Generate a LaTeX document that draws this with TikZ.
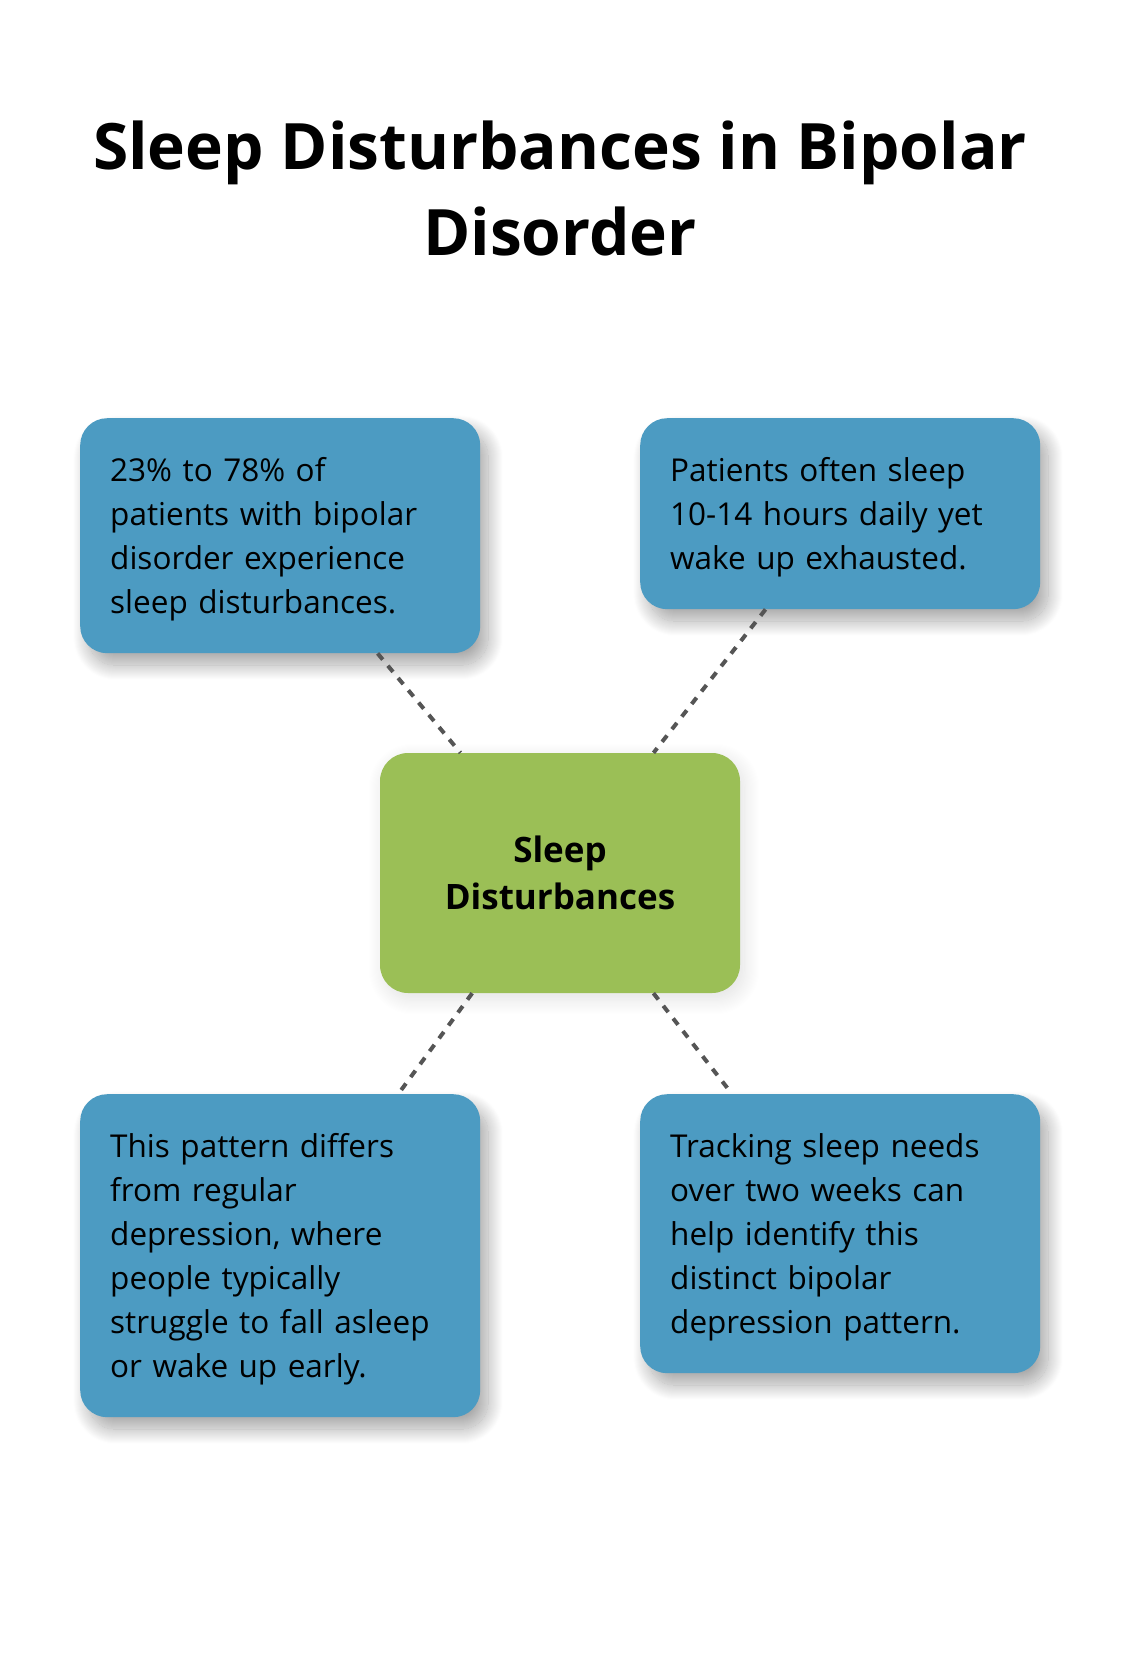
\documentclass[tikz,border=0pt]{standalone}
\usepackage{fontspec}
\setmainfont{Open Sans}
\usetikzlibrary{shadows.blur}

\definecolor{infoblue}{HTML}{4C9BC2}
\definecolor{maingreen}{HTML}{9BBF56}
\definecolor{linkgray}{HTML}{555555}

\begin{document}
\begin{tikzpicture}[x=1pt,y=-1pt,
  info node/.style={draw=none,fill=infoblue,rounded corners=27pt,anchor=north west,
    text width=340pt,align=left,inner xsep=30pt,inner ysep=29.5pt,
    font=\fontsize{31.5}{44}\selectfont,
    execute at begin node={\rule{0pt}{34pt}},execute at end node={\rule[-10pt]{0pt}{10pt}},
    blur shadow={shadow xshift=8pt,shadow yshift=-12pt,shadow blur radius=15pt,shadow blur steps=30,shadow opacity=35}},
  main node/.style={draw=none,fill=maingreen,rounded corners=28pt,
    minimum width=360pt,minimum height=240pt,align=center,
    font=\fontsize{35}{47}\selectfont\bfseries,
    blur shadow={shadow xshift=4pt,shadow yshift=-6pt,shadow blur radius=16pt,shadow blur steps=30,shadow opacity=12}},
  link/.style={-,draw=linkgray,line width=4pt,dash pattern=on 8pt off 8pt}]

  \useasboundingbox (0,0) rectangle (1120,1678);

  \node[align=center,font=\fontsize{64}{86}\selectfont\bfseries] (title) at (560,188)
    {Sleep Disturbances in Bipolar\\Disorder};

  \node[main node] (sleep) at (560,873) {Sleep\\Disturbances};
  \node[info node] (rate) at (80,418) {23\% to 78\% of\\patients with bipolar\\disorder experience\\sleep disturbances.};
  \node[info node] (hours) at (640,418) {Patients often sleep\\10-14 hours daily yet\\wake up exhausted.};
  \node[info node] (differ) at (80,1094) {This pattern differs\\from regular\\depression, where\\people typically\\struggle to fall asleep\\or wake up early.};
  \node[info node] (track) at (640,1094) {Tracking sleep needs\\over two weeks can\\help identify this\\distinct bipolar\\depression pattern.};

  \path[link]
       (rate) edge (sleep)
       (hours) edge (sleep)
       (sleep) edge (differ)
       (sleep) edge (track);
\end{tikzpicture}
\end{document}
